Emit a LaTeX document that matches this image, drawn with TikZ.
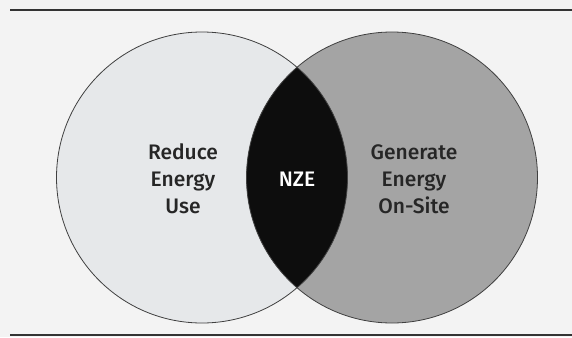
\documentclass[tikz,border=0pt]{standalone}
\usepackage{fontspec}
\setmainfont{Fira Sans}[UprightFont=* Medium]
\definecolor{paper}{HTML}{F3F3F3}
\definecolor{lightset}{HTML}{E6E8EA}
\definecolor{darkset}{HTML}{A4A4A4}
\begin{document}
\begin{tikzpicture}[x=1pt,y=-1pt,
  rule/.style={line width=1.6pt,draw=black!80},
  ring/.style={line width=0.8pt,draw=black!75},
  label/.style={align=center,font=\fontsize{21}{27}\selectfont,text=black!85}]
\useasboundingbox[fill=paper] (0,0) rectangle (572,337);
% horizontal rules
\coordinate (tl) at (10,10);
\coordinate (tr) at (572,10);
\coordinate (bl) at (10,335);
\coordinate (br) at (572,335);
\draw[rule] (tl) -- (tr);
\draw[rule] (bl) -- (br);
% the two sets
\coordinate (cL) at (202,177.5);
\coordinate (cR) at (392,177.5);
\fill[lightset] (cL) circle (145.5);
\fill[darkset] (cR) circle (145.5);
\begin{scope}
  \clip (cL) circle (145.5);
  \fill[black!95] (cR) circle (145.5);
\end{scope}
\draw[ring] (cL) circle (145.5);
\draw[ring] (cR) circle (145.5);
% labels
\node[label] (reduce) at (183,179) {Reduce\\Energy\\Use};
\node[label,text=white] (nze) at (297,179) {NZE};
\node[label] (generate) at (414,179) {Generate\\Energy\\On-Site};
\end{tikzpicture}
\end{document}
